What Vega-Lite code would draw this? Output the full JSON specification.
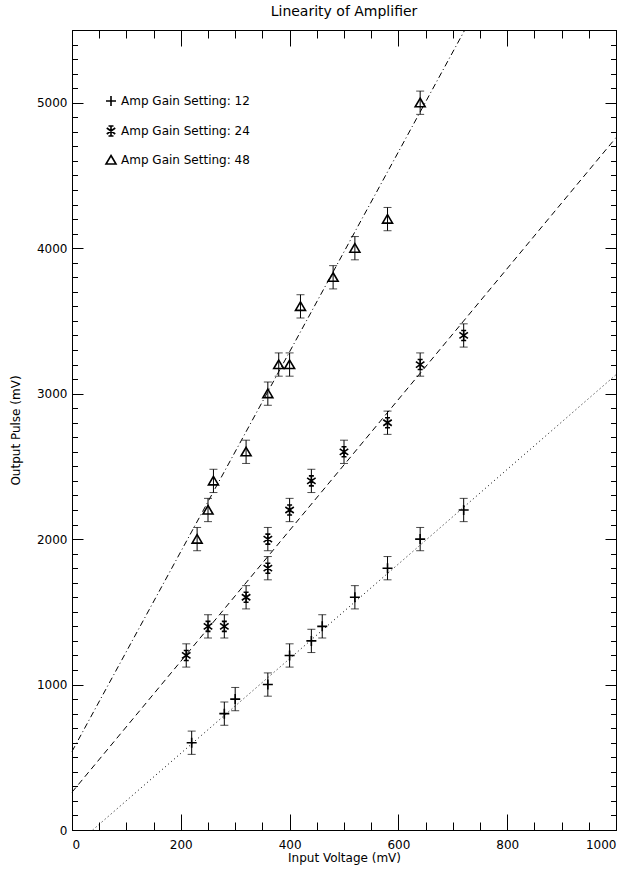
{
  "$schema": "https://vega.github.io/schema/vega-lite/v6.json",
  "autosize": {"type": "none"},
  "padding": {"left": 72, "top": 30, "right": 17, "bottom": 45},
  "width": 544,
  "height": 800,
  "background": "white",
  "title": {"text": "Linearity of Amplifier", "fontSize": 14, "fontWeight": "normal", "font": "DejaVu Sans", "color": "black", "anchor": "middle", "offset": 9},
  "datasets": {
    "pts": [
      {"series": "Amp Gain Setting: 12", "x": 220, "y": 600, "lo": 520, "hi": 680},
      {"series": "Amp Gain Setting: 12", "x": 280, "y": 800, "lo": 720, "hi": 880},
      {"series": "Amp Gain Setting: 12", "x": 300, "y": 900, "lo": 820, "hi": 980},
      {"series": "Amp Gain Setting: 12", "x": 360, "y": 1000, "lo": 920, "hi": 1080},
      {"series": "Amp Gain Setting: 12", "x": 400, "y": 1200, "lo": 1120, "hi": 1280},
      {"series": "Amp Gain Setting: 12", "x": 440, "y": 1300, "lo": 1220, "hi": 1380},
      {"series": "Amp Gain Setting: 12", "x": 460, "y": 1400, "lo": 1320, "hi": 1480},
      {"series": "Amp Gain Setting: 12", "x": 520, "y": 1600, "lo": 1520, "hi": 1680},
      {"series": "Amp Gain Setting: 12", "x": 580, "y": 1800, "lo": 1720, "hi": 1880},
      {"series": "Amp Gain Setting: 12", "x": 640, "y": 2000, "lo": 1920, "hi": 2080},
      {"series": "Amp Gain Setting: 12", "x": 720, "y": 2200, "lo": 2120, "hi": 2280},
      {"series": "Amp Gain Setting: 24", "x": 210, "y": 1200, "lo": 1120, "hi": 1280},
      {"series": "Amp Gain Setting: 24", "x": 250, "y": 1400, "lo": 1320, "hi": 1480},
      {"series": "Amp Gain Setting: 24", "x": 280, "y": 1400, "lo": 1320, "hi": 1480},
      {"series": "Amp Gain Setting: 24", "x": 320, "y": 1600, "lo": 1520, "hi": 1680},
      {"series": "Amp Gain Setting: 24", "x": 360, "y": 1800, "lo": 1720, "hi": 1880},
      {"series": "Amp Gain Setting: 24", "x": 360, "y": 2000, "lo": 1920, "hi": 2080},
      {"series": "Amp Gain Setting: 24", "x": 400, "y": 2200, "lo": 2120, "hi": 2280},
      {"series": "Amp Gain Setting: 24", "x": 440, "y": 2400, "lo": 2320, "hi": 2480},
      {"series": "Amp Gain Setting: 24", "x": 500, "y": 2600, "lo": 2520, "hi": 2680},
      {"series": "Amp Gain Setting: 24", "x": 580, "y": 2800, "lo": 2720, "hi": 2880},
      {"series": "Amp Gain Setting: 24", "x": 640, "y": 3200, "lo": 3120, "hi": 3280},
      {"series": "Amp Gain Setting: 24", "x": 720, "y": 3400, "lo": 3320, "hi": 3480},
      {"series": "Amp Gain Setting: 48", "x": 230, "y": 2000, "lo": 1920, "hi": 2080},
      {"series": "Amp Gain Setting: 48", "x": 250, "y": 2200, "lo": 2120, "hi": 2280},
      {"series": "Amp Gain Setting: 48", "x": 260, "y": 2400, "lo": 2320, "hi": 2480},
      {"series": "Amp Gain Setting: 48", "x": 320, "y": 2600, "lo": 2520, "hi": 2680},
      {"series": "Amp Gain Setting: 48", "x": 360, "y": 3000, "lo": 2920, "hi": 3080},
      {"series": "Amp Gain Setting: 48", "x": 380, "y": 3200, "lo": 3120, "hi": 3280},
      {"series": "Amp Gain Setting: 48", "x": 400, "y": 3200, "lo": 3120, "hi": 3280},
      {"series": "Amp Gain Setting: 48", "x": 420, "y": 3600, "lo": 3520, "hi": 3680},
      {"series": "Amp Gain Setting: 48", "x": 480, "y": 3800, "lo": 3720, "hi": 3880},
      {"series": "Amp Gain Setting: 48", "x": 520, "y": 4000, "lo": 3920, "hi": 4080},
      {"series": "Amp Gain Setting: 48", "x": 580, "y": 4200, "lo": 4120, "hi": 4280},
      {"series": "Amp Gain Setting: 48", "x": 640, "y": 5000, "lo": 4920, "hi": 5080}
    ],
    "fits": [
      {"fit": "g12", "x": 38, "y": 0},
      {"fit": "g12", "x": 1000, "y": 3130},
      {"fit": "g24", "x": 0, "y": 260},
      {"fit": "g24", "x": 1000, "y": 4760},
      {"fit": "g48", "x": 0, "y": 540},
      {"fit": "g48", "x": 722, "y": 5500}
    ]
  },
  "resolve": {"axis": {"x": "independent", "y": "independent"}},
  "layer": [
    {
      "data": {"name": "fits"},
      "mark": {"type": "line", "color": "black", "strokeWidth": 1},
      "encoding": {
        "x": {"field": "x", "type": "quantitative", "scale": {"domain": [0, 1000], "nice": false, "zero": false},
              "axis": {"orient": "bottom", "values": [0, 200, 400, 600, 800, 1000], "format": "d", "domain": false, "ticks": false, "tickSize": 0, "labelPadding": 9,
                       "grid": true, "gridColor": "black", "gridOpacity": 1, "gridWidth": 1, "gridDash": [16, 768, 16, 2000],
                       "title": "Input Voltage (mV)", "titlePadding": 2}},
        "y": {"field": "y", "type": "quantitative", "scale": {"domain": [0, 5500], "nice": false, "zero": false},
              "axis": {"orient": "left", "values": [0, 1000, 2000, 3000, 4000, 5000], "format": "d", "domain": false, "ticks": false, "tickSize": 0, "labelPadding": 5,
                       "grid": true, "gridColor": "black", "gridOpacity": 1, "gridWidth": 1, "gridDash": [11, 522, 11, 2000],
                       "title": "Output Pulse (mV)", "titlePadding": 14}},
        "detail": {"field": "fit"},
        "strokeDash": {"field": "fit", "type": "nominal", "legend": null,
                       "scale": {"domain": ["g12", "g24", "g48"], "range": [[1, 3], [6, 4], [6, 3, 1, 3]]}}
      }
    },
    {
      "data": {"name": "pts"},
      "mark": {"type": "rule", "color": "black", "strokeWidth": 1},
      "encoding": {
        "x": {"field": "x", "type": "quantitative",
              "axis": {"orient": "bottom", "values": [0, 50, 100, 150, 200, 250, 300, 350, 400, 450, 500, 550, 600, 650, 700, 750, 800, 850, 900, 950, 1000], "domain": false, "ticks": false, "labels": false, "title": null,
                       "grid": true, "gridColor": "black", "gridOpacity": 1, "gridWidth": 1, "gridDash": [8, 784, 8, 2000]}},
        "y": {"field": "lo", "type": "quantitative",
              "axis": {"orient": "left", "values": [0, 100, 200, 300, 400, 500, 600, 700, 800, 900, 1000, 1100, 1200, 1300, 1400, 1500, 1600, 1700, 1800, 1900, 2000, 2100, 2200, 2300, 2400, 2500, 2600, 2700, 2800, 2900, 3000, 3100, 3200, 3300, 3400, 3500, 3600, 3700, 3800, 3900, 4000, 4100, 4200, 4300, 4400, 4500, 4600, 4700, 4800, 4900, 5000, 5100, 5200, 5300, 5400, 5500], "domain": false, "ticks": false, "labels": false, "title": null,
                       "grid": true, "gridColor": "black", "gridOpacity": 1, "gridWidth": 1, "gridDash": [5.5, 533, 5.5, 2000]}},
        "y2": {"field": "hi"}
      }
    },
    {
      "data": {"name": "pts"},
      "mark": {"type": "tick", "orient": "horizontal", "color": "black", "size": 8, "thickness": 1},
      "encoding": {
        "x": {"field": "x", "type": "quantitative", "axis": null},
        "y": {"field": "lo", "type": "quantitative", "axis": null}
      }
    },
    {
      "data": {"name": "pts"},
      "mark": {"type": "tick", "orient": "horizontal", "color": "black", "size": 8, "thickness": 1},
      "encoding": {
        "x": {"field": "x", "type": "quantitative", "axis": null},
        "y": {"field": "hi", "type": "quantitative", "axis": null}
      }
    },
    {
      "data": {"name": "pts"},
      "mark": {"type": "point", "filled": false, "color": "black", "strokeWidth": 1.6, "opacity": 1},
      "encoding": {
        "x": {"field": "x", "type": "quantitative", "axis": null},
        "y": {"field": "y", "type": "quantitative", "axis": null},
        "shape": {"field": "series", "type": "nominal",
                  "scale": {"domain": ["Amp Gain Setting: 12", "Amp Gain Setting: 24", "Amp Gain Setting: 48"],
                            "range": ["M-1,0L1,0M0,-1L0,1", "M0,-1L0,1M-0.85,-0.6L0.85,0.6M-0.85,0.6L0.85,-0.6M-0.5,-1L0.5,-1M-0.5,1L0.5,1", "M0,-0.9L1,0.8L-1,0.8Z"]},
                  "legend": {"title": null, "orient": "none", "legendX": 33, "legendY": 65, "padding": 0,
                             "symbolSize": 100, "symbolStrokeColor": "black", "symbolFillColor": "transparent", "symbolStrokeWidth": 1.6,
                             "labelFontSize": 12, "labelFont": "DejaVu Sans", "labelColor": "black", "labelOffset": 4, "rowPadding": 12}},
        "size": {"value": 100}
      }
    }
  ],
  "config": {
    "view": {"stroke": "black", "strokeWidth": 1, "fill": "transparent"},
    "axis": {"labelColor": "black", "labelFont": "DejaVu Sans", "labelFontSize": 12,
             "titleFont": "DejaVu Sans", "titleFontSize": 12, "titleFontWeight": "normal", "titleColor": "black"}
  }
}
